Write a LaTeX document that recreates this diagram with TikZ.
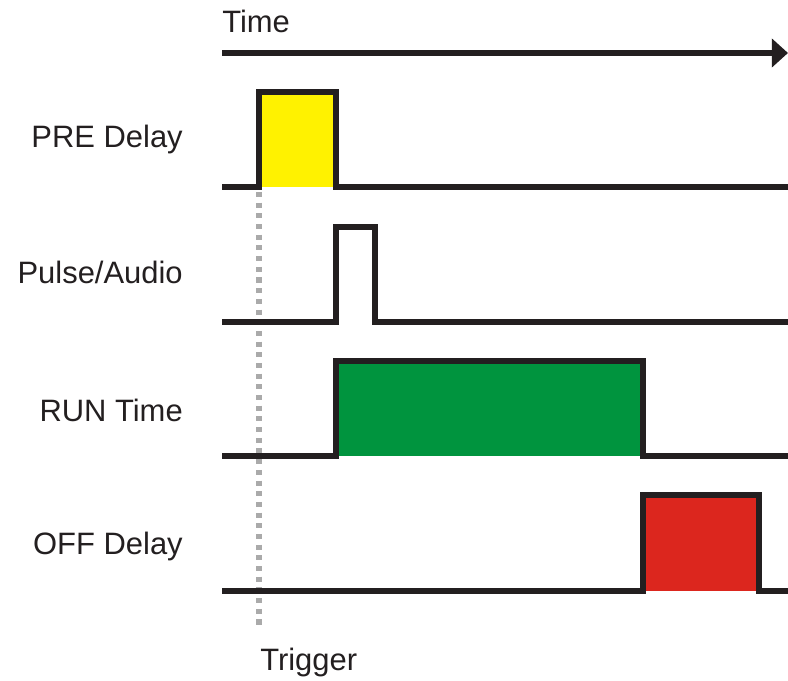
\documentclass[tikz,border=0pt]{standalone}
\usepackage{fontspec}
\setmainfont{Liberation Sans}
\usetikzlibrary{arrows.meta}
\definecolor{inkblack}{RGB}{35,31,32}
\definecolor{preyellow}{RGB}{255,242,0}
\definecolor{rungreen}{RGB}{0,148,62}
\definecolor{offred}{RGB}{220,38,30}
\definecolor{triggergray}{RGB}{170,170,170}

\begin{document}
\begin{tikzpicture}[x=0.025cm, y=-0.025cm, font=\fontsize{22}{26}\selectfont,
  wave/.style={line width=3.6pt, draw=inkblack, line join=miter},
  lbl/.style={anchor=base east, text=inkblack, inner sep=0pt}]
\useasboundingbox (0,0) rectangle (788,681);
% time axis
\coordinate (t0) at (222,53);
\coordinate (t1) at (788,53);
\draw[line width=3.6pt, inkblack, -{Triangle[length=11.5pt, width=20pt]}] (t0) -- (t1);
\node[anchor=base west, inner sep=0pt, text=inkblack] (timelbl) at (222,33) {Time};
% trigger line
\coordinate (trg0) at (259,192);
\coordinate (trg1) at (259,630);
\draw[line width=3.6pt, triggergray, dash pattern=on 3.6pt off 4pt] (trg0) -- (trg1);
\node[anchor=base west, inner sep=0pt, text=inkblack] (trglbl) at (260,670) {Trigger};
% PRE Delay
\fill[preyellow] (259,92) rectangle (336,187);
\draw[wave] (222,187) -- (259,187) -- (259,92) -- (336,92) -- (336,187) -- (788,187);
\node[lbl] (prelbl) at (183,148) {PRE Delay};
% Pulse/Audio
\draw[wave] (222,322) -- (336,322) -- (336,227) -- (375,227) -- (375,322) -- (788,322);
\node[lbl] (pulselbl) at (183,284) {Pulse/Audio};
% RUN Time
\fill[rungreen] (336,361) rectangle (643,456);
\draw[wave] (222,456) -- (336,456) -- (336,361) -- (643,361) -- (643,456) -- (788,456);
\node[lbl] (runlbl) at (183,421) {RUN Time};
% OFF Delay
\fill[offred] (643,495) rectangle (759,591);
\draw[wave] (222,591) -- (643,591) -- (643,495) -- (759,495) -- (759,591) -- (788,591);
\node[lbl] (offlbl) at (183,554) {OFF Delay};
\end{tikzpicture}
\end{document}
